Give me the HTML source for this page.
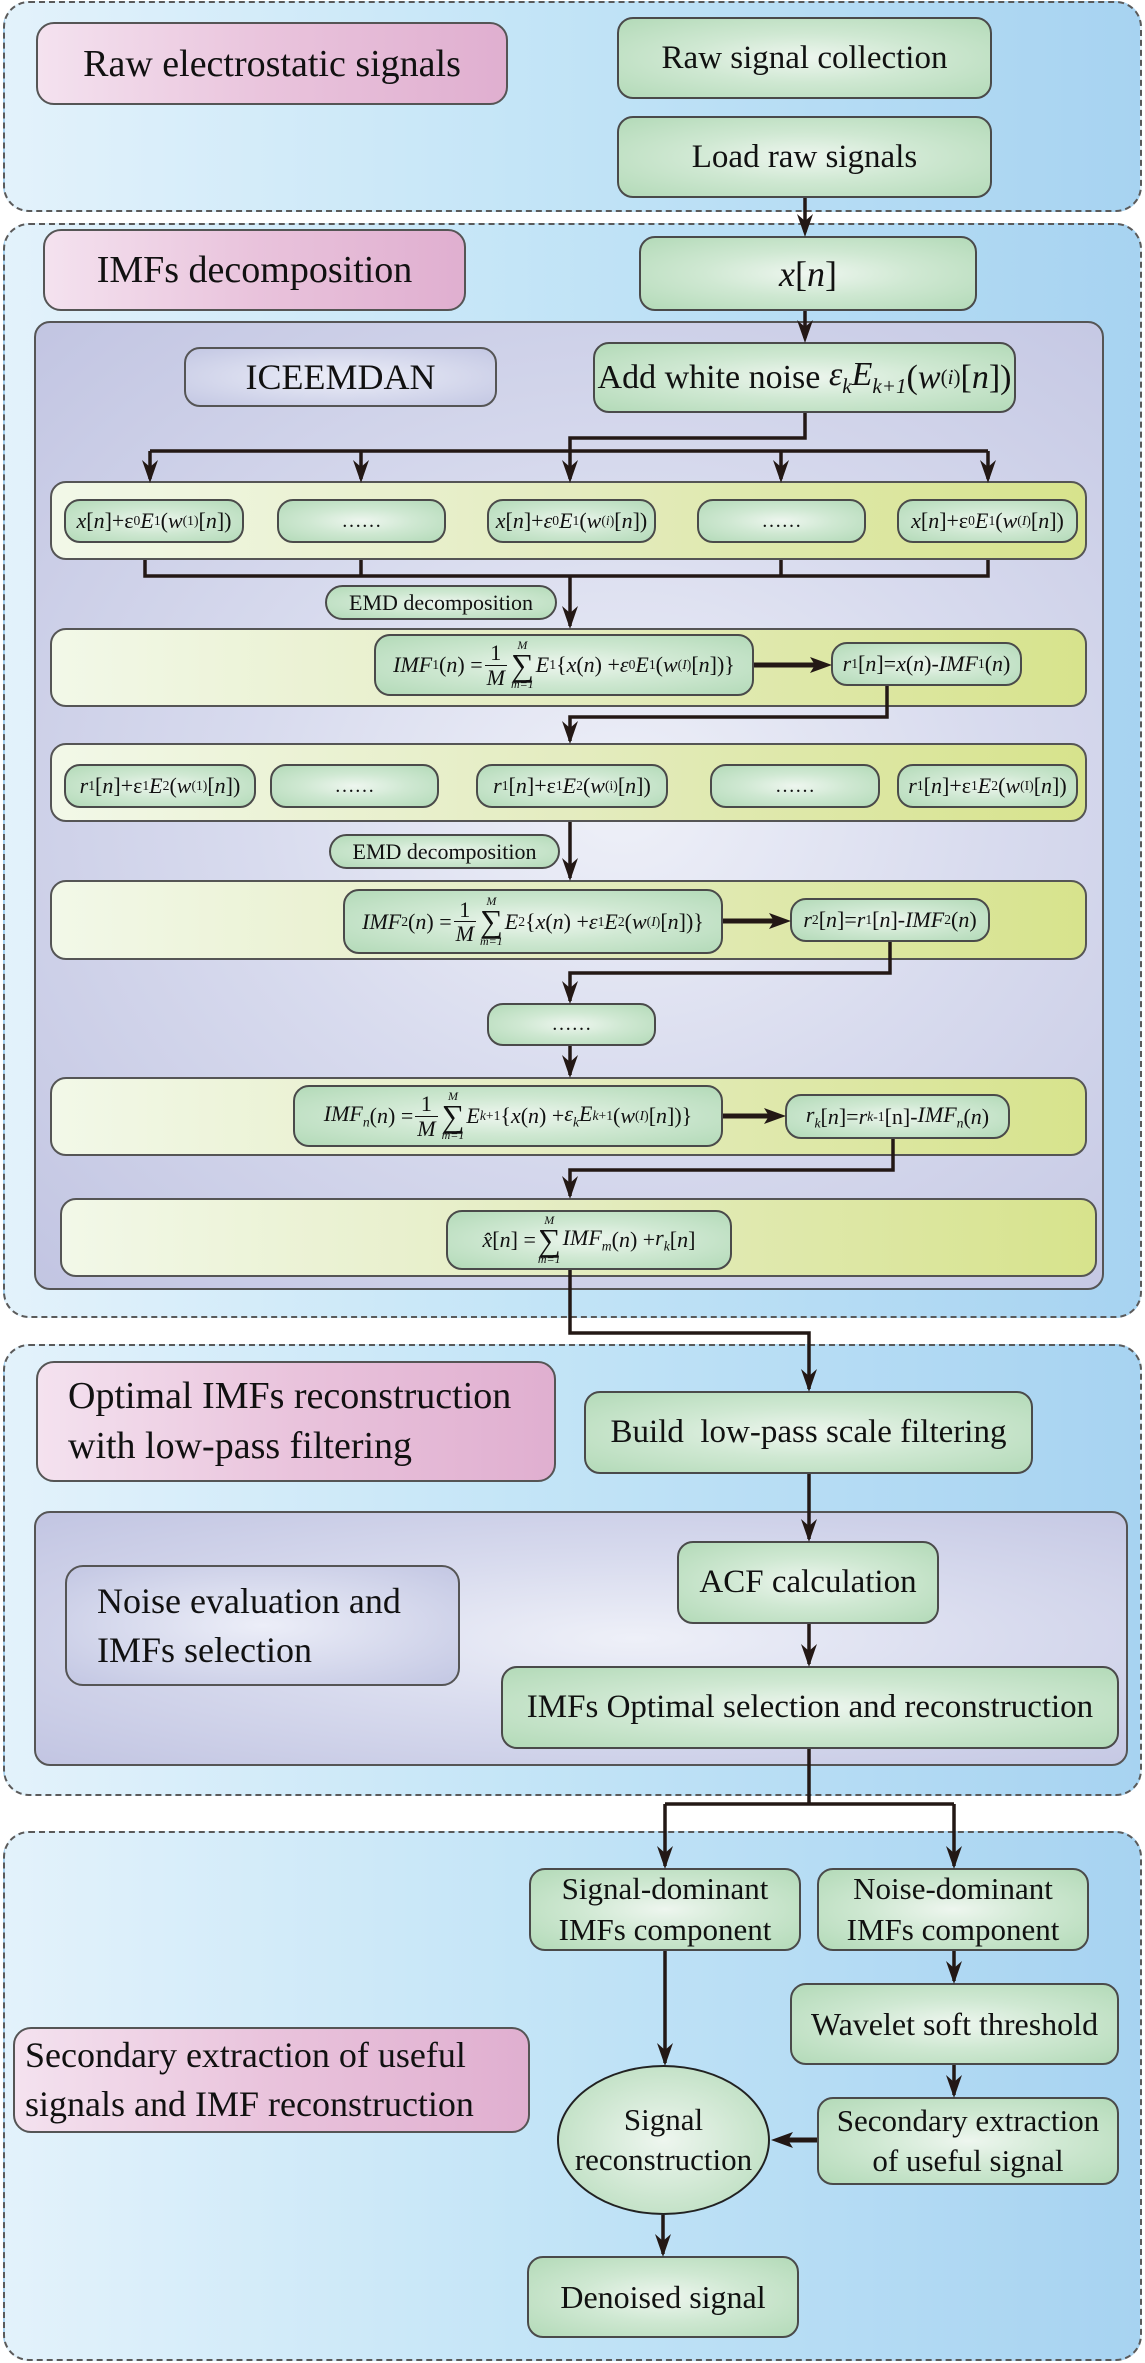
<!DOCTYPE html>
<html><head><meta charset="utf-8">
<style>
*{box-sizing:border-box;margin:0;padding:0}
body{width:1145px;height:2363px;position:relative;background:#fff;font-family:"Liberation Serif",serif;color:#111;overflow:hidden}
.a{position:absolute}
.sec{position:absolute;border:2px dashed #5a5a5a;border-radius:26px;background:linear-gradient(to right,#e3f2fb,#c4e5f7 45%,#a7d3f1)}
.pink{position:absolute;border:2px solid #555;border-radius:18px;background:linear-gradient(to right,#f4e2ef,#e9c3dc 50%,#e0afd0);display:flex;align-items:center;justify-content:center;text-align:center}
.green{position:absolute;border:2px solid #4a4a4a;border-radius:16px;background:radial-gradient(ellipse at center,#eef6ef 0%,#cfe8d2 45%,#b3dab8 100%);display:flex;align-items:center;justify-content:center;text-align:center;white-space:nowrap}
.purple{position:absolute;border:2px solid #555;border-radius:16px;background:radial-gradient(ellipse at 55% 50%,#eef0f8 0%,#d8dbee 45%,#c2c5e2 100%)}
.band{position:absolute;border:2px solid #555;border-radius:16px;background:linear-gradient(to right,#f2f8e8,#e4ecc0 50%,#d7e38c)}
i{font-style:italic}
.fr{display:inline-flex;flex-direction:column;align-items:center;vertical-align:middle;line-height:1.05;margin:0 2px}
.fr span+span{border-top:1.5px solid #111;padding:0 2px}
.sm{display:inline-flex;flex-direction:column;align-items:center;vertical-align:middle;line-height:.9;margin:0 2px}
.sm small{font-size:12px;font-style:italic}
.sm b{font-weight:normal;font-size:32px}
sub,sup{font-size:62%}
</style></head><body>

<div class="sec" style="left:3px;top:1px;width:1139px;height:211px"></div>
<div class="sec" style="left:3px;top:223px;width:1139px;height:1095px"></div>
<div class="sec" style="left:3px;top:1344px;width:1139px;height:452px"></div>
<div class="sec" style="left:3px;top:1831px;width:1139px;height:530px"></div>

<div class="pink" style="left:36px;top:22px;width:472px;height:83px;font-size:38px">Raw electrostatic signals</div>
<div class="green" style="left:617px;top:17px;width:375px;height:82px;font-size:33px">Raw signal collection</div>
<div class="green" style="left:617px;top:116px;width:375px;height:82px;font-size:33px">Load raw signals</div>

<div class="pink" style="left:43px;top:229px;width:423px;height:82px;font-size:38px">IMFs decomposition</div>
<div class="green" style="left:639px;top:236px;width:338px;height:75px;font-size:36px"><span><i>x</i>[<i>n</i>]</span></div>
<div class="purple" style="left:34px;top:321px;width:1070px;height:969px"></div>
<div class="a" style="left:184px;top:347px;width:313px;height:60px;border:2px solid #555;border-radius:16px;background:radial-gradient(ellipse at center,#eceef8,#c3c7e3);display:flex;align-items:center;justify-content:center;font-size:36px">ICEEMDAN</div>
<div class="green" style="left:593px;top:342px;width:423px;height:71px;font-size:34px">Add white noise&nbsp;<i>ε<sub>k</sub>E<sub>k+1</sub></i>(<i>w</i><sup>(<i>i</i>)</sup>[<i>n</i>])</div>

<div class="band" style="left:50px;top:481px;width:1037px;height:79px"></div>
<div class="green" style="left:64px;top:499px;width:180px;height:44px;font-size:22px"><i>x</i>[<i>n</i>]+ε<sub>0</sub><i>E</i><sub>1</sub>(<i>w</i><sup>(1)</sup>[<i>n</i>])</div>
<div class="green" style="left:277px;top:499px;width:169px;height:44px;font-size:20px">……</div>
<div class="green" style="left:487px;top:499px;width:169px;height:44px;font-size:22px"><i>x</i>[<i>n</i>]+<i>ε</i><sub>0</sub><i>E</i><sub>1</sub>(<i>w</i><sup>(<i>i</i>)</sup>[<i>n</i>])</div>
<div class="green" style="left:697px;top:499px;width:169px;height:44px;font-size:20px">……</div>
<div class="green" style="left:897px;top:499px;width:181px;height:44px;font-size:22px"><i>x</i>[<i>n</i>]+ε<sub>0</sub><i>E</i><sub>1</sub>(<i>w</i><sup>(<i>I</i>)</sup>[<i>n</i>])</div>

<div class="green" style="left:325px;top:585px;width:232px;height:35px;font-size:22px;border-radius:18px">EMD decomposition</div>

<div class="band" style="left:50px;top:628px;width:1037px;height:79px"></div>
<div class="green" style="left:374px;top:634px;width:380px;height:62px;font-size:22px"><i>IMF</i><sub>1</sub>(<i>n</i>) =<span class="fr"><span>1</span><span><i>M</i></span></span><span class="sm"><small>M</small><b>∑</b><small>m=1</small></span><i>E</i><sub>1</sub>{<i>x</i>(<i>n</i>) + <i>ε</i><sub>0</sub><i>E</i><sub>1</sub>(<i>w</i><sup>(<i>I</i>)</sup>[<i>n</i>])}</div>
<div class="green" style="left:831px;top:642px;width:191px;height:44px;font-size:22px"><i>r</i><sub>1</sub>[<i>n</i>]=<i>x</i>(<i>n</i>)-<i>IMF</i><sub>1</sub>(<i>n</i>)</div>

<div class="band" style="left:50px;top:743px;width:1037px;height:79px"></div>
<div class="green" style="left:64px;top:764px;width:192px;height:44px;font-size:22px"><i>r</i><sub>1</sub>[<i>n</i>]+ε<sub>1</sub><i>E</i><sub>2</sub>(<i>w</i><sup>(1)</sup>[<i>n</i>])</div>
<div class="green" style="left:270px;top:764px;width:169px;height:44px;font-size:20px">……</div>
<div class="green" style="left:476px;top:764px;width:192px;height:44px;font-size:22px"><i>r</i><sub>1</sub>[<i>n</i>]+ε<sub>1</sub><i>E</i><sub>2</sub>(<i>w</i><sup>(i)</sup>[<i>n</i>])</div>
<div class="green" style="left:710px;top:764px;width:170px;height:44px;font-size:20px">……</div>
<div class="green" style="left:897px;top:764px;width:181px;height:44px;font-size:22px"><i>r</i><sub>1</sub>[<i>n</i>]+ε<sub>1</sub><i>E</i><sub>2</sub>(<i>w</i><sup>(I)</sup>[<i>n</i>])</div>

<div class="green" style="left:329px;top:834px;width:231px;height:35px;font-size:22px;border-radius:18px">EMD decomposition</div>

<div class="band" style="left:50px;top:880px;width:1037px;height:80px"></div>
<div class="green" style="left:343px;top:889px;width:380px;height:65px;font-size:22px"><i>IMF</i><sub>2</sub>(<i>n</i>) =<span class="fr"><span>1</span><span><i>M</i></span></span><span class="sm"><small>M</small><b>∑</b><small>m=1</small></span><i>E</i><sub>2</sub>{<i>x</i>(<i>n</i>) + <i>ε</i><sub>1</sub><i>E</i><sub>2</sub>(<i>w</i><sup>(<i>I</i>)</sup>[<i>n</i>])}</div>
<div class="green" style="left:790px;top:898px;width:200px;height:44px;font-size:22px"><i>r</i><sub>2</sub>[<i>n</i>]=<i>r</i><sub>1</sub>[<i>n</i>]-<i>IMF</i><sub>2</sub>(<i>n</i>)</div>

<div class="green" style="left:487px;top:1003px;width:169px;height:43px;font-size:20px">……</div>

<div class="band" style="left:50px;top:1077px;width:1037px;height:79px"></div>
<div class="green" style="left:293px;top:1085px;width:430px;height:62px;font-size:22px"><i>IMF<sub>n</sub></i>(<i>n</i>) =<span class="fr"><span>1</span><span><i>M</i></span></span><span class="sm"><small>M</small><b>∑</b><small>m=1</small></span><i>E</i><sub><i>k</i>+1</sub>{<i>x</i>(<i>n</i>) + <i>ε<sub>k</sub>E</i><sub><i>k</i>+1</sub>(<i>w</i><sup>(<i>I</i>)</sup>[<i>n</i>])}</div>
<div class="green" style="left:785px;top:1094px;width:225px;height:45px;font-size:22px"><i>r<sub>k</sub></i>[<i>n</i>]=<i>r</i><sub><i>k</i>-1</sub>[n]-<i>IMF<sub>n</sub></i>(<i>n</i>)</div>

<div class="band" style="left:60px;top:1198px;width:1037px;height:79px"></div>
<div class="green" style="left:446px;top:1210px;width:286px;height:60px;font-size:22px"><i>x̂</i>[<i>n</i>] =<span class="sm"><small>M</small><b>∑</b><small>m=1</small></span><i>IMF<sub>m</sub></i>(<i>n</i>) + <i>r<sub>k</sub></i>[<i>n</i>]</div>

<div class="pink" style="left:36px;top:1361px;width:520px;height:121px;font-size:38px;justify-content:flex-start;text-align:left;padding-left:30px;line-height:1.3">Optimal IMFs reconstruction<br>with low-pass filtering</div>
<div class="green" style="left:584px;top:1391px;width:449px;height:83px;font-size:33px">Build&nbsp; low-pass scale filtering</div>
<div class="purple" style="left:34px;top:1511px;width:1094px;height:255px"></div>
<div class="a" style="left:65px;top:1565px;width:395px;height:121px;border:2px solid #555;border-radius:18px;background:radial-gradient(ellipse at center,#eceef8,#c3c7e3);font-size:36px;line-height:1.35;padding:10px 0 0 30px">Noise evaluation and<br>IMFs selection</div>
<div class="green" style="left:677px;top:1541px;width:262px;height:83px;font-size:33px">ACF calculation</div>
<div class="green" style="left:501px;top:1666px;width:618px;height:83px;font-size:33px">IMFs Optimal selection and reconstruction</div>

<div class="green" style="left:529px;top:1868px;width:272px;height:83px;font-size:31px;line-height:1.3;white-space:normal">Signal-dominant<br>IMFs component</div>
<div class="green" style="left:817px;top:1868px;width:272px;height:83px;font-size:31px;line-height:1.3;white-space:normal">Noise-dominant<br>IMFs component</div>
<div class="green" style="left:790px;top:1983px;width:329px;height:82px;font-size:32px">Wavelet soft threshold</div>
<div class="green" style="left:817px;top:2097px;width:302px;height:88px;font-size:31px;line-height:1.3;white-space:normal">Secondary extraction<br>of useful signal</div>
<div class="a" style="left:557px;top:2065px;width:213px;height:150px;border:2px solid #222;border-radius:50%;background:radial-gradient(ellipse at center,#eef6ef,#b3dab8);display:flex;align-items:center;justify-content:center;text-align:center;font-size:31px;line-height:1.3">Signal<br>reconstruction</div>
<div class="green" style="left:527px;top:2256px;width:272px;height:82px;font-size:32px">Denoised signal</div>
<div class="pink" style="left:13px;top:2027px;width:517px;height:106px;font-size:36px;line-height:1.35;justify-content:flex-start;text-align:left;padding-left:10px">Secondary extraction of useful<br>signals and IMF reconstruction</div>

<svg class="a" style="left:0;top:0" width="1145" height="2363">
<g fill="none" stroke="#231815" stroke-width="3.5">
<path d="M805 198V232M805 311V338"/>
<path d="M805 413V438H570V451M150 451H988M150 451V479M361 451V479M570 451V479M781 451V479M988 451V479"/>
<path d="M145 560V576H988V560M361 560V576M781 560V576M570 576V626"/>
<path d="M754 665H815" stroke-width="5"/>
<path d="M887 686V717H570V741"/>
<path d="M570 822V878"/>
<path d="M723 921H775" stroke-width="5"/>
<path d="M890 942V973H570V1001"/>
<path d="M570 1046V1075"/>
<path d="M723 1116H770" stroke-width="5"/>
<path d="M893 1139V1170H570V1196"/>
<path d="M570 1270V1333H809V1389"/>
<path d="M809 1474V1539M809 1624V1664"/>
<path d="M809 1749V1804M665 1804H954M665 1804V1866M954 1804V1866"/>
<path d="M954 1951V1981M954 2065V2095M665 1951V2063M663 2215V2254"/>
<path d="M817 2140H785" stroke-width="5"/>
</g>
<g fill="#231815">
<polygon points="797,214 805,237 813,214 805,221"/>
<polygon points="797,320 805,343 813,320 805,327"/>
<polygon points="142,460 150,483 158,460 150,467"/>
<polygon points="353,460 361,483 369,460 361,467"/>
<polygon points="562,460 570,483 578,460 570,467"/>
<polygon points="773,460 781,483 789,460 781,467"/>
<polygon points="980,460 988,483 996,460 988,467"/>
<polygon points="562,606 570,629 578,606 570,613"/>
<polygon points="810,657 832,665 810,673 815,665"/>
<polygon points="562,721 570,744 578,721 570,728"/>
<polygon points="562,858 570,881 578,858 570,865"/>
<polygon points="769,913 791,921 769,929 774,921"/>
<polygon points="562,981 570,1004 578,981 570,988"/>
<polygon points="562,1055 570,1078 578,1055 570,1062"/>
<polygon points="764,1108 786,1116 764,1124 769,1116"/>
<polygon points="562,1176 570,1199 578,1176 570,1183"/>
<polygon points="801,1369 809,1392 817,1369 809,1376"/>
<polygon points="801,1519 809,1542 817,1519 809,1526"/>
<polygon points="801,1644 809,1667 817,1644 809,1651"/>
<polygon points="657,1846 665,1869 673,1846 665,1853"/>
<polygon points="946,1846 954,1869 962,1846 954,1853"/>
<polygon points="946,1961 954,1984 962,1961 954,1968"/>
<polygon points="946,2075 954,2098 962,2075 954,2082"/>
<polygon points="657,2043 665,2066 673,2043 665,2050"/>
<polygon points="655,2234 663,2257 671,2234 663,2241"/>
<polygon points="793,2132 771,2140 793,2148 788,2140"/>
</g>
</svg>
</body></html>
